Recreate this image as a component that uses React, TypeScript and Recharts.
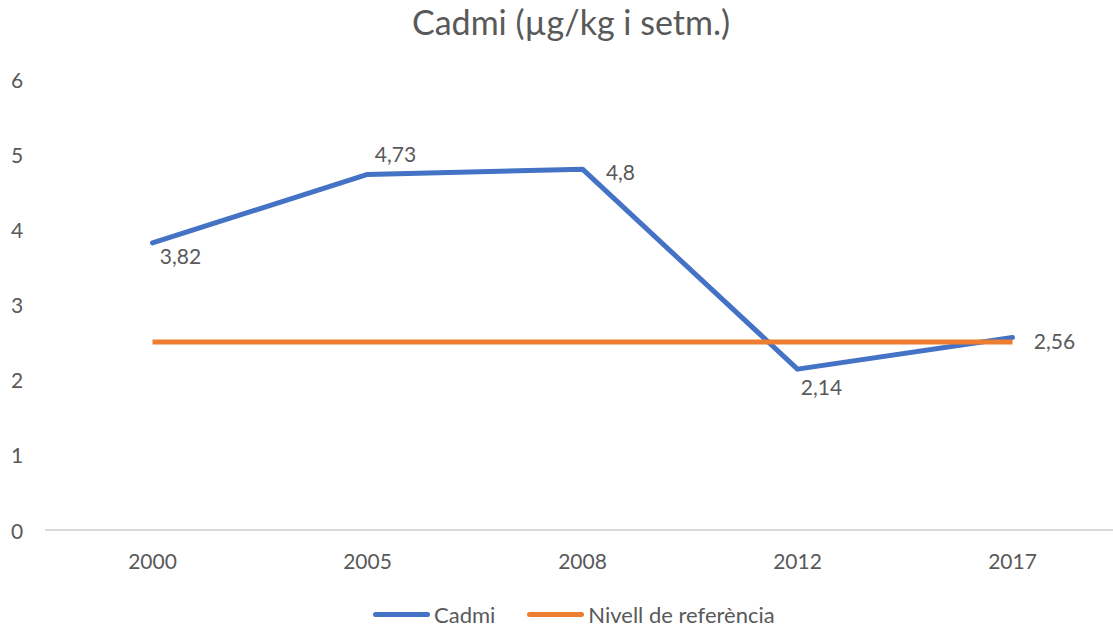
import React from 'react';
import { LineChart, Line, XAxis, YAxis, Legend, LabelList } from 'recharts';

const years = ['2000', '2005', '2008', '2012', '2017'];
const cadmi = [3.82, 4.73, 4.8, 2.14, 2.56];
const referencia = [2.5, 2.5, 2.5, 2.5, 2.5];
const yTicks = [0, 1, 2, 3, 4, 5, 6];

const BLUE = '#4472C4';
const ORANGE = '#ED7D31';
const TEXT = '#595959';
const FONT = 'Lato, "Open Sans", sans-serif';

// where each data label sits relative to its point (Excel had them moved by hand)
const labelOffsets = [
  { dx: 28, dy: 13 },
  { dx: 28, dy: -21 },
  { dx: 38, dy: 2 },
  { dx: 24, dy: 17 },
  { dx: 42, dy: 3 },
];

const data = years.map((y, i) => ({ year: y, cadmi: cadmi[i], ref: referencia[i] }));

function CadmiLabel(props: any) {
  const { x, y, value, index } = props;
  const off = labelOffsets[index] || { dx: 0, dy: -15 };
  return (
    <text x={x + off.dx} y={y + off.dy} textAnchor="middle" dominantBaseline="central"
      fill={TEXT} fontSize={21} fontFamily={FONT}>
      {String(value).replace('.', ',')}
    </text>
  );
}

function XTick({ x, y, payload }: any) {
  return (
    <text x={x} y={y + 30} textAnchor="middle" dominantBaseline="central"
      fill={TEXT} fontSize={21} fontFamily={FONT}>{payload.value}</text>
  );
}

function YTick({ y, payload }: any) {
  return (
    <text x={11} y={y} textAnchor="start" dominantBaseline="central"
      fill={TEXT} fontSize={21} fontFamily={FONT}>{payload.value}</text>
  );
}

function LegendContent() {
  const item = (color: string, label: string, gap: number) => (
    <div style={{ display: 'flex', alignItems: 'center', marginRight: gap }}>
      <div style={{ width: 57, height: 5, borderRadius: 3, background: color, marginRight: 4 }} />
      <span style={{ fontSize: 22, color: TEXT, fontFamily: FONT, lineHeight: '20px' }}>{label}</span>
    </div>
  );
  return (
    <div style={{ height: 40, paddingTop: 17, paddingLeft: 373, boxSizing: 'border-box', display: 'flex' }}>
      {item(BLUE, 'Cadmi', 32)}
      {item(ORANGE, 'Nivell de referència', 0)}
    </div>
  );
}

export default function App() {
  return (
    <div style={{ position: 'absolute', left: 0, top: 0, width: 1113, height: 626, overflow: 'hidden', background: '#fff' }}>
      <div style={{ position: 'absolute', left: 0, width: 1142, top: 2, textAlign: 'center', fontFamily: FONT, fontSize: 34, color: TEXT, lineHeight: '40px' }}>
        Cadmi (µg/kg i setm.)
      </div>
      <LineChart width={1120} height={626} data={data} margin={{ top: 79, right: 0, bottom: 0, left: 0 }}>
        <XAxis dataKey="year" height={56} tickLine={false} tickSize={0} tickMargin={0}
          axisLine={{ stroke: '#D9D9D9', strokeWidth: 2 }} tick={<XTick />}
          padding={{ left: 107.5, right: 107.5 }} interval={0} />
        <YAxis width={45} domain={[0, 6]} ticks={yTicks} axisLine={false} tickLine={false} tick={<YTick />} />
        <Legend verticalAlign="bottom" content={<LegendContent />} />
        <Line dataKey="cadmi" name="Cadmi" stroke={BLUE} strokeWidth={5} dot={false}
          strokeLinecap="round" strokeLinejoin="round" isAnimationActive={false}>
          <LabelList dataKey="cadmi" content={<CadmiLabel />} />
        </Line>
        <Line dataKey="ref" name="Nivell de referència" stroke={ORANGE} strokeWidth={5} dot={false}
          strokeLinejoin="round" isAnimationActive={false} />
      </LineChart>
    </div>
  );
}
